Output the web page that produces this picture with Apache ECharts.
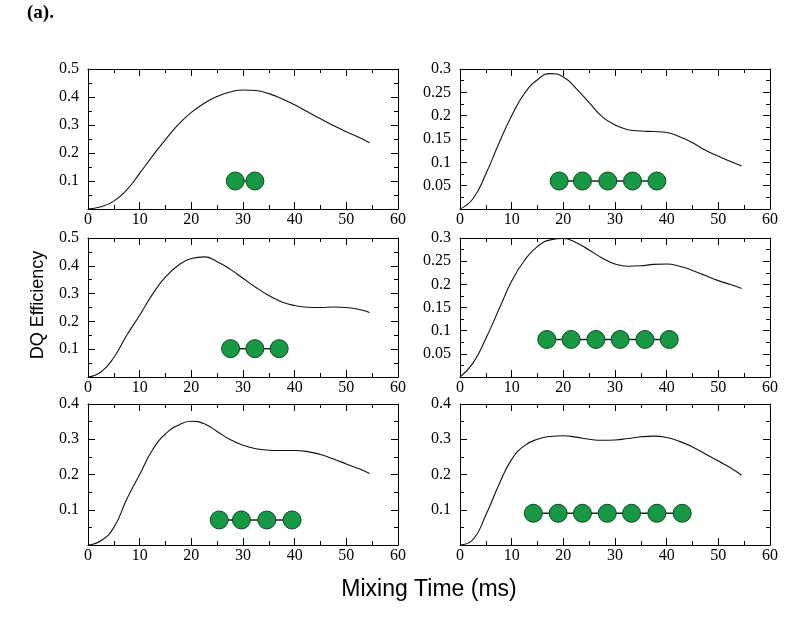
<!DOCTYPE html>
<html>
<head>
<meta charset="utf-8">
<script src="https://cdn.jsdelivr.net/npm/echarts@6/dist/echarts.min.js"></script>
<style>
html,body{margin:0;padding:0;background:#fff;}
#chart{width:800px;height:623px;}
</style>
</head>
<body>
<div id="chart"></div>
<script>
// Mixing time (ms) sample points
const xTime = [0, 2.5, 5, 7.5, 10, 12.5, 15, 17.5, 20, 22.5, 25, 27.5, 30, 32.5, 35, 37.5, 40, 42.5, 45, 47.5, 50, 52.5, 54.5];

// DQ efficiency curves (one per chain length)
const dq2 = [0, 0.008, 0.028, 0.068, 0.127, 0.19, 0.248, 0.302, 0.345, 0.378, 0.402, 0.418, 0.425, 0.423, 0.412, 0.394, 0.372, 0.347, 0.322, 0.298, 0.276, 0.255, 0.237];
const dq5 = [0, 0.022, 0.075, 0.14, 0.2, 0.248, 0.277, 0.29, 0.283, 0.258, 0.228, 0.198, 0.18, 0.17, 0.167, 0.166, 0.164, 0.155, 0.142, 0.126, 0.113, 0.101, 0.092];
const dq3 = [0, 0.018, 0.07, 0.15, 0.222, 0.298, 0.36, 0.402, 0.426, 0.432, 0.415, 0.388, 0.355, 0.322, 0.293, 0.27, 0.257, 0.251, 0.25, 0.252, 0.25, 0.243, 0.232];
const dq6 = [0, 0.03, 0.083, 0.145, 0.207, 0.252, 0.282, 0.296, 0.299, 0.29, 0.274, 0.257, 0.244, 0.239, 0.24, 0.243, 0.244, 0.239, 0.23, 0.219, 0.208, 0.199, 0.191];
const dq4 = [0, 0.012, 0.05, 0.13, 0.2, 0.27, 0.315, 0.34, 0.351, 0.344, 0.322, 0.299, 0.283, 0.273, 0.269, 0.268, 0.268, 0.265, 0.257, 0.244, 0.23, 0.216, 0.203];
const dq7 = [0, 0.015, 0.085, 0.17, 0.243, 0.282, 0.3, 0.308, 0.31, 0.306, 0.3, 0.297, 0.298, 0.302, 0.307, 0.309, 0.305, 0.294, 0.278, 0.258, 0.238, 0.218, 0.198];

// Chain icons: x positions and y level of the beads (data coords)
const beads2X = [28.5, 32.3];            const beads2Y = 0.1;
const beads5X = [19.2, 23.7, 28.6, 33.4, 38.1]; const beads5Y = 0.06;
const beads3X = [27.6, 32.3, 37.0];      const beads3Y = 0.102;
const beads6X = [16.8, 21.5, 26.3, 31.0, 35.8, 40.5]; const beads6Y = 0.081;
const beads4X = [25.4, 29.7, 34.6, 39.5]; const beads4Y = 0.071;
const beads7X = [14.2, 19.0, 23.7, 28.5, 33.2, 38.1, 43.0]; const beads7Y = 0.09;

// Axis settings
const xMax = 60, xInterval = 10;
const yMaxes = [0.5, 0.3, 0.5, 0.3, 0.4, 0.4];
const yIntervals = [0.1, 0.05, 0.1, 0.05, 0.1, 0.1];

const panels = [
  {curve: dq2, bx: beads2X, by: beads2Y},
  {curve: dq5, bx: beads5X, by: beads5Y},
  {curve: dq3, bx: beads3X, by: beads3Y},
  {curve: dq6, bx: beads6X, by: beads6Y},
  {curve: dq4, bx: beads4X, by: beads4Y},
  {curve: dq7, bx: beads7X, by: beads7Y}
];

const gridPos = [
  {left: 88, top: 69, width: 310, height: 140},
  {left: 460, top: 69, width: 310, height: 140},
  {left: 88, top: 238, width: 310, height: 139},
  {left: 460, top: 238, width: 310, height: 139},
  {left: 88, top: 404, width: 310, height: 141},
  {left: 460, top: 404, width: 310, height: 141}
];

const serif = 'Liberation Serif';
const grids = [], xAxes = [], yAxes = [], series = [];

panels.forEach((p, i) => {
  grids.push(Object.assign({containLabel: false}, gridPos[i]));
  const lineStyle = {color: '#000', width: 1};
  const tickCommon = {show: true, inside: true, length: 7, lineStyle: {color: '#000', width: 1}};
  const minorCommon = {show: true, splitNumber: 2, length: 4, lineStyle: {color: '#000', width: 1}};
  xAxes.push({
    gridIndex: i, type: 'value', min: 0, max: xMax, interval: xInterval, position: 'bottom',
    axisLine: {show: true, onZero: false, lineStyle},
    axisTick: tickCommon, minorTick: minorCommon,
    splitLine: {show: false},
    axisLabel: {show: true, margin: 3, color: '#000', fontFamily: serif, fontSize: 16}
  });
  xAxes.push({
    gridIndex: i, type: 'value', min: 0, max: xMax, interval: xInterval, position: 'top',
    axisLine: {show: true, onZero: false, lineStyle},
    axisTick: tickCommon, minorTick: minorCommon,
    splitLine: {show: false}, axisLabel: {show: false}
  });
  const yMax = yMaxes[i], yInt = yIntervals[i];
  yAxes.push({
    gridIndex: i, type: 'value', min: 0, max: yMax, interval: yInt, position: 'left',
    axisLine: {show: true, onZero: false, lineStyle},
    axisTick: tickCommon, minorTick: minorCommon,
    splitLine: {show: false},
    axisLabel: {show: true, showMinLabel: false, margin: 9, color: '#000', fontFamily: serif, fontSize: 16,
      formatter: v => String(parseFloat(v.toFixed(3)))}
  });
  yAxes.push({
    gridIndex: i, type: 'value', min: 0, max: yMax, interval: yInt, position: 'right',
    axisLine: {show: true, onZero: false, lineStyle},
    axisTick: tickCommon, minorTick: minorCommon,
    splitLine: {show: false}, axisLabel: {show: false}
  });
  series.push({
    type: 'line', xAxisIndex: 2 * i, yAxisIndex: 2 * i,
    data: xTime.map((x, k) => [x, p.curve[k]]),
    smooth: 0.5, showSymbol: false, symbol: 'none',
    lineStyle: {color: '#111', width: 1.1}, silent: true, z: 3
  });
  series.push({
    type: 'line', xAxisIndex: 2 * i, yAxisIndex: 2 * i,
    data: p.bx.map(x => [x, p.by]),
    symbol: 'circle', symbolSize: 18, showSymbol: true,
    lineStyle: {color: '#222', width: 1.5},
    itemStyle: {color: '#179844', borderColor: '#0d4a22', borderWidth: 1},
    silent: true, z: 4
  });
});

const chart = echarts.init(document.getElementById('chart'), null, {renderer: 'canvas'});
chart.setOption({
  animation: false,
  backgroundColor: '#fff',
  grid: grids,
  xAxis: xAxes,
  yAxis: yAxes,
  series: series,
  graphic: [
    {type: 'text', left: 27, top: 4, style: {text: '(a).', font: 'bold 19px "Liberation Serif"', fill: '#000'}},
    {type: 'text', x: 38, y: 305, rotation: Math.PI / 2,
      style: {text: 'DQ Efficiency', font: '18px "Liberation Sans"', fill: '#000', align: 'center', verticalAlign: 'middle'}},
    {type: 'text', x: 429, y: 590,
      style: {text: 'Mixing Time (ms)', font: '23px "Liberation Sans"', fill: '#000', align: 'center', verticalAlign: 'middle'}}
  ]
});
</script>
</body>
</html>
